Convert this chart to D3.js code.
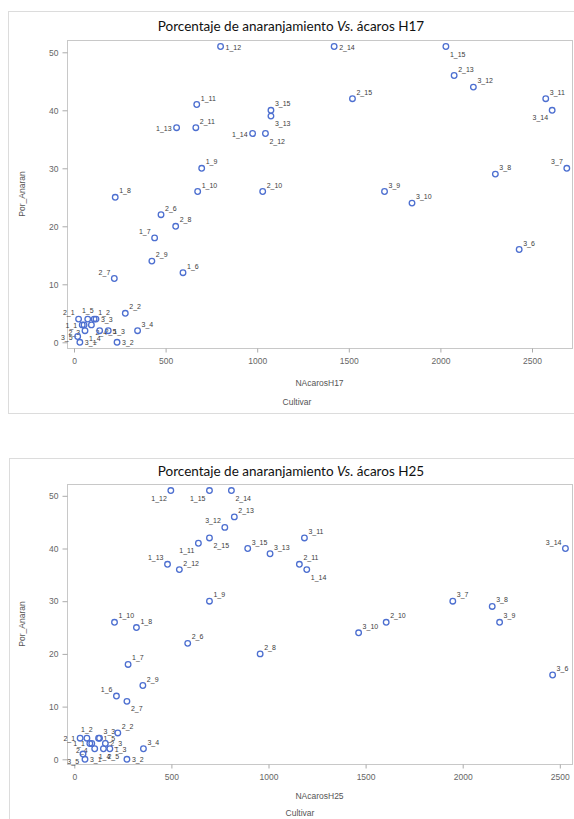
<!DOCTYPE html>
<html>
<head>
<meta charset="utf-8">
<script src="https://cdn.jsdelivr.net/npm/d3@7"></script>
<style>
    body { margin: 0; background: #fff; }
    svg text { font-family: "Liberation Sans", Arial, sans-serif; }
    .title { font-family: Lato, "Open Sans", sans-serif !important; }
</style>
</head>
<body>
<svg id="chart" width="574" height="819"></svg>
<script>
// cultivar ids: cultivar_repetition
var ids = ["1_1", "1_2", "1_3", "1_4", "1_5", "1_6", "1_7", "1_8", "1_9", "1_10", "1_11", "1_12", "1_13", "1_14", "1_15",
    "2_1", "2_2", "2_3", "2_4", "2_5", "2_6", "2_7", "2_8", "2_9", "2_10", "2_11", "2_12", "2_13", "2_14", "2_15",
    "3_1", "3_2", "3_3", "3_4", "3_5", "3_6", "3_7", "3_8", "3_9", "3_10", "3_11", "3_12", "3_13", "3_14", "3_15"];

// Por_Anaran (same y in both panels)
var porAnaran = [3, 4, 2, 2, 4, 12, 18, 25, 30, 26, 41, 51, 37, 36, 51,
    4, 5, 3, 3, 2, 22, 11, 20, 14, 26, 37, 36, 46, 51, 42,
    0, 0, 4, 2, 1, 16, 30, 29, 26, 24, 42, 44, 39, 40, 40];

// NAcarosH17
var acarosH17 = [45, 110, 187, 60, 75, 595, 440, 225, 697, 675, 670, 800, 560, 975, 2030,
    25, 280, 55, 95, 140, 475, 220, 555, 425, 1030, 665, 1045, 2075, 1420, 1520,
    32, 235, 120, 347, 20, 2430, 2690, 2300, 1695, 1845, 2575, 2180, 1075, 2610, 1075];

// NAcarosH25
var acarosH25 = [80, 65, 183, 105, 125, 217, 277, 320, 696, 207, 639, 497, 480, 1197, 696,
    30, 224, 160, 90, 150, 584, 271, 957, 353, 1606, 1159, 541, 824, 809, 696,
    55, 271, 130, 356, 45, 2463, 1949, 2152, 2190, 1464, 1185, 775, 1008, 2529, 893];

var yTicks = [0, 10, 20, 30, 40, 50];
var xTicks = [0, 500, 1000, 1500, 2000, 2500];

// where each point label sits (default: upper right)
var labelPosH17 = {
    "1_12": "r", "2_14": "r", "1_15": "lr", "3_14": "ll", "3_13": "lr", "1_13": "l", "1_14": "l",
    "2_12": "lr", "3_7": "ul", "1_7": "ul", "2_7": "ul", "1_3": "r", "3_2": "r", "3_1": "r",
    "3_5": "l", "2_1": "ul", "1_1": "l", "1_5": "u", "1_2": "ur", "3_3": "r", "2_3": "ll",
    "1_4": "lr", "2_4": "lr", "2_5": "r"
};
var labelPosH25 = {
    "1_12": "ll", "1_15": "ll", "2_14": "lr", "3_12": "ul", "2_15": "lr", "1_11": "ll", "1_14": "lr",
    "1_13": "ul", "3_14": "ul", "1_6": "ul", "2_7": "lr", "3_2": "r", "3_1": "r", "1_3": "r",
    "2_1": "l", "3_5": "ll", "1_2": "u", "3_3": "ur", "2_3": "r", "1_1": "l", "1_4": "lr",
    "1_5": "r", "2_4": "ll", "2_5": "lr"
};

var offsets = {
    ur: {dx: 4, dy: -4, a: "start"},
    r: {dx: 5, dy: 3, a: "start"},
    lr: {dx: 4, dy: 10, a: "start"},
    ul: {dx: -4, dy: -4, a: "end"},
    l: {dx: -5, dy: 3, a: "end"},
    ll: {dx: -4, dy: 10, a: "end"},
    u: {dx: 0, dy: -6, a: "middle"}
};

var svg = d3.select("#chart");

function panel(opt) {
    var g = svg.append("g");
    var x = d3.scaleLinear().domain([0, 2500]).range(opt.xRange);
    var y = d3.scaleLinear().domain([0, 50]).range(opt.yRange);
    var f = opt.frame;

    // outer panel box
    g.append("rect")
        .attr("x", opt.box[0] + 0.5).attr("y", opt.box[1] + 0.5)
        .attr("width", opt.box[2]).attr("height", opt.box[3])
        .attr("fill", "none").attr("stroke", "#dcdcdc");

    g.append("text")
        .attr("class", "title")
        .attr("x", opt.titleX).attr("y", opt.titleY)
        .attr("text-anchor", "middle")
        .attr("font-size", 13.5)
        .attr("fill", "#111")
        .call(function (t) {
            t.append("tspan").text("Porcentaje de anaranjamiento ");
            t.append("tspan").attr("font-style", "italic").text("Vs");
            t.append("tspan").text(". ácaros " + opt.tag);
        });

    // plot frame
    g.append("rect")
        .attr("x", f[0] + 0.5).attr("y", f[1] + 0.5)
        .attr("width", f[2] - f[0]).attr("height", f[3] - f[1])
        .attr("fill", "none").attr("stroke", "#c8c8c8");

    var xAxis = d3.axisBottom(x).tickValues(xTicks).tickSize(4).tickPadding(5).tickFormat(d3.format("d"));
    var yAxis = d3.axisLeft(y).tickValues(yTicks).tickSize(5).tickPadding(4);

    g.append("g")
        .attr("transform", "translate(0," + (f[3] + 0.5) + ")")
        .call(xAxis)
        .call(function (a) {
            a.select(".domain").remove();
            a.selectAll("line").attr("stroke", "#aaa");
            a.selectAll("text").attr("fill", "#666").attr("font-size", 8.5);
        });

    g.append("g")
        .attr("transform", "translate(" + (f[0] + 0.5) + ",0)")
        .call(yAxis)
        .call(function (a) {
            a.select(".domain").remove();
            a.selectAll("line").attr("stroke", "#aaa");
            a.selectAll("text").attr("fill", "#666").attr("font-size", 8.5);
        });

    g.append("text")
        .attr("x", (f[0] + f[2]) / 2).attr("y", opt.xLabelY)
        .attr("text-anchor", "middle").attr("font-size", 8.5).attr("fill", "#555")
        .text("NAcaros" + opt.tag);

    g.append("text")
        .attr("x", opt.cultivarX).attr("y", opt.cultivarY)
        .attr("text-anchor", "middle").attr("font-size", 8.5).attr("fill", "#555")
        .text("Cultivar");

    g.append("text")
        .attr("transform", "translate(25," + ((f[1] + f[3]) / 2) + ") rotate(-90)")
        .attr("text-anchor", "middle").attr("font-size", 8.5).attr("fill", "#555")
        .text("Por_Anaran");

    var pts = ids.map(function (id, i) {
        return {id: id, x: opt.xs[i], y: porAnaran[i]};
    });

    var lab = g.append("g");
    lab.selectAll("text")
        .data(pts)
        .enter().append("text")
        .each(function (d) {
            var o = offsets[opt.labelPos[d.id] || "ur"];
            d3.select(this)
                .attr("x", x(d.x) + o.dx)
                .attr("y", y(d.y) + o.dy)
                .attr("text-anchor", o.a);
        })
        .attr("font-size", 7)
        .attr("fill", "#3c3c3c")
        .text(function (d) { return d.id; });

    g.append("g").selectAll("circle")
        .data(pts)
        .enter().append("circle")
        .attr("cx", function (d) { return x(d.x); })
        .attr("cy", function (d) { return y(d.y); })
        .attr("r", 2.8)
        .attr("fill", "none")
        .attr("stroke", "#4d6fd0")
        .attr("stroke-width", 1.3);
}

panel({
    tag: "H17",
    xs: acarosH17,
    labelPos: labelPosH17,
    xRange: [74, 532],
    yRange: [342.3, 52.3],
    frame: [67, 40, 572, 348],
    box: [8, 11, 580, 402],
    titleX: 291, titleY: 31,
    xLabelY: 386, cultivarX: 297, cultivarY: 405
});

panel({
    tag: "H25",
    xs: acarosH25,
    labelPos: labelPosH25,
    xRange: [74.3, 559.8],
    yRange: [759.3, 495.8],
    frame: [67, 484, 572, 764],
    box: [9, 458, 580, 400],
    titleX: 291, titleY: 476,
    xLabelY: 799, cultivarX: 300, cultivarY: 816
});
</script>
</body>
</html>
